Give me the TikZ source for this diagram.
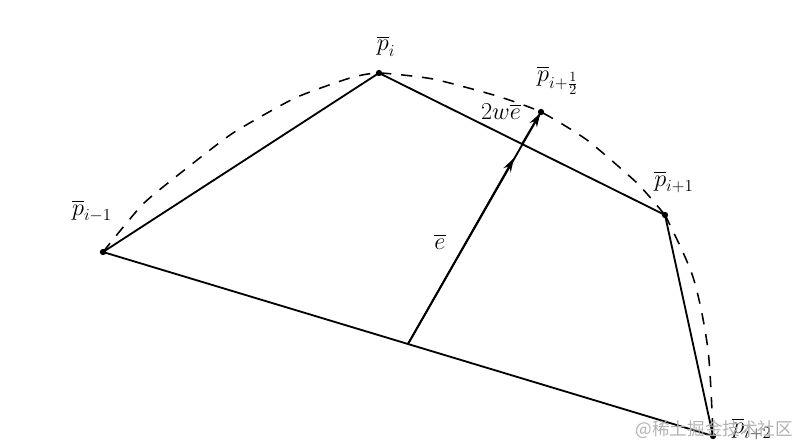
\documentclass[tikz,border=0pt]{standalone}
\usepackage{fontspec}
\usepackage{amsmath}
\usetikzlibrary{calc}
\usetikzlibrary{shapes.geometric, arrows.meta, positioning}
\newfontfamily\cjkfont{Noto Sans CJK SC}

\tikzset{
    edge/.style={line width=1.3pt},
    curve/.style={line width=1.1pt, dash pattern=on 8pt off 7pt},
    vec/.style={line width=1.3pt},
    tip/.style={-{Stealth[length=10pt,width=6pt]}, line width=1.3pt},
    pt/.style={circle, fill=black, inner sep=0pt, minimum size=4.5pt},
    lbl/.style={font=\LARGE}
}

\begin{document}
\begin{tikzpicture}[x=0.025cm,y=-0.025cm]
\useasboundingbox (0,0) rectangle (812,448);

% Control points
\node[pt] (pm) at (103,252) {};
\node[pt] (pi) at (379,73) {};
\node[pt] (pp) at (665,215) {};
\node[pt] (pq) at (713,436) {};
\node[pt] (ph) at (541,112) {};

% Midpoints for the vector e
\coordinate (mb) at ($(pm.center)!0.5!(pq.center)$);
\coordinate (mt) at ($(pi.center)!0.5!(pp.center)$);

% Control polygon
\draw[edge] (pm.center) -- (pi.center) -- (pp.center) -- (pq.center) -- (pm.center);

% Dashed curve
\draw[curve] plot[smooth, tension=0.35] coordinates
    {(103,252) (143,204) (187,168) (233,133) (295,98) (350,78) (379,73)
     (433,79) (497,96) (541,112) (587,140) (637,183) (665,215)};
\draw[curve] plot[smooth, tension=0.5] coordinates
    {(665,215) (693,277) (708,350) (713,436)};

% Vector e and 2we
\draw[vec] (mb) -- (ph.center);
\draw[tip] (mb) -- ($(mb)!0.93!(mt)$);
\draw[tip] (mt) -- ($(mt)!0.97!(ph.center)$);

% Labels
\node[lbl] (lpi) at (386,46) {$\overline{p}_i$};
\node[lbl] (lph) at (558,80) {$\overline{p}_{i+\frac{1}{2}}$};
\node[lbl] (lwe) at (501,112) {$2w\overline{e}$};
\node[lbl] (le) at (440,242) {$\overline{e}$};
\node[lbl] (lpm) at (92,211) {$\overline{p}_{i-1}$};
\node[lbl] (lpp) at (674,182) {$\overline{p}_{i+1}$};
\node[lbl] (lpq) at (752,429) {$\overline{p}_{i+2}$};

% Watermark
\node[text=black!30, font=\cjkfont\fontsize{12.5}{14}\selectfont, anchor=east] (wm) at (798,430) {@稀土掘金技术社区};

\end{tikzpicture}
\end{document}
